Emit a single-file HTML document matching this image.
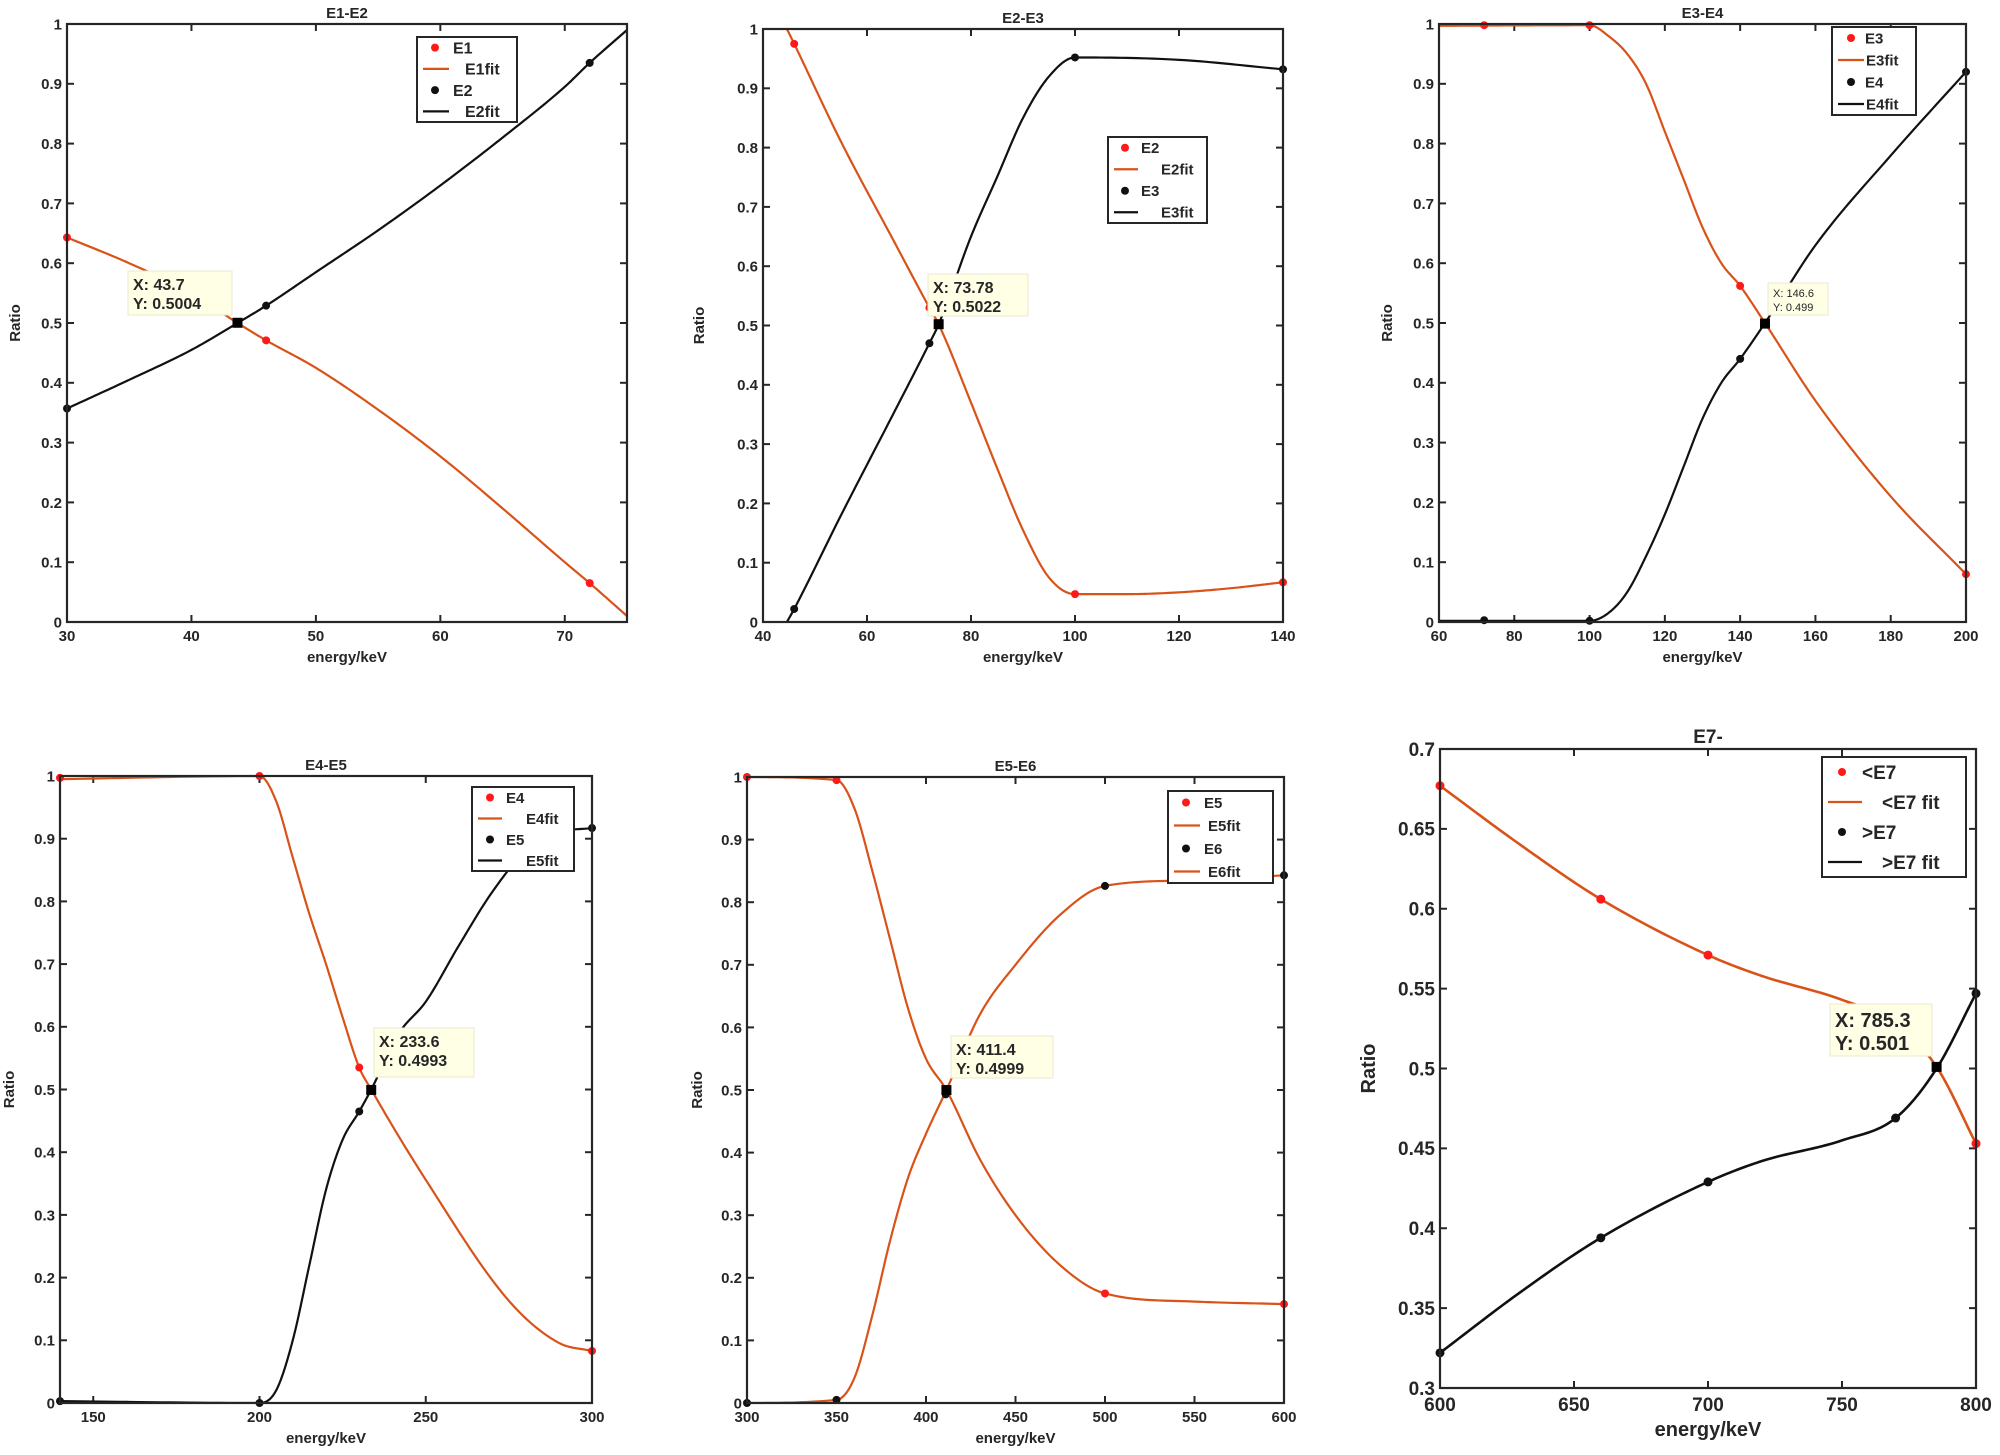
<!DOCTYPE html>
<html><head><meta charset="utf-8">
<style>
html,body{margin:0;padding:0;background:#fff;}
svg{display:block;}
text{font-family:"Liberation Sans","DejaVu Sans",sans-serif;font-weight:bold;fill:#262626;}
</style></head>
<body>
<svg id="fig" width="2000" height="1455" viewBox="0 0 2000 1455" xmlns="http://www.w3.org/2000/svg"></svg>
<script>
// ---------- data ----------
const p1Xticks=[30,40,50,60,70];
const p1E1x=[30,46,72], p1E1y=[0.643,0.471,0.065];
const p1E1fitX=[30,35,40,43.7,46,50,55,60,65,70,72,75];
const p1E1fitY=[0.643,0.6,0.55,0.5,0.471,0.425,0.355,0.277,0.19,0.1,0.065,0.01];
const p1E2x=[30,46,72], p1E2y=[0.357,0.529,0.935];
const p1E2fitX=[30,35,40,43.7,46,50,55,60,65,70,72,75];
const p1E2fitY=[0.357,0.405,0.455,0.5,0.529,0.585,0.655,0.73,0.81,0.895,0.935,0.99];

const p2Xticks=[40,60,80,100,120,140];
const p2E2x=[46,72,100,140], p2E2y=[0.975,0.53,0.047,0.067];
const p2E2fitX=[44.6,46,55,65,72,73.78,80,85,90,95,100,110,120,130,140];
const p2E2fitY=[1.0,0.975,0.81,0.645,0.53,0.502,0.37,0.26,0.155,0.075,0.047,0.047,0.05,0.057,0.067];
const p2E3x=[46,72,100,140], p2E3y=[0.022,0.47,0.952,0.932];
const p2E3fitX=[44.6,46,55,65,72,73.78,80,85,90,95,100,120,140];
const p2E3fitY=[0,0.022,0.18,0.35,0.47,0.502,0.65,0.75,0.85,0.92,0.952,0.948,0.932];

const p3Xticks=[60,80,100,120,140,160,180,200];
const p3E3x=[72,100,140,200], p3E3y=[0.998,0.998,0.562,0.08];
const p3E3fitX=[60,100,105,110,115,120,125,130,135,140,146.6,160,180,200];
const p3E3fitY=[0.997,0.998,0.98,0.95,0.9,0.82,0.74,0.66,0.6,0.562,0.5,0.37,0.21,0.08];
const p3E4x=[72,100,140,200], p3E4y=[0.003,0.002,0.44,0.92];
const p3E4fitX=[60,100,105,110,115,120,125,130,135,140,146.6,160,180,200];
const p3E4fitY=[0.002,0.002,0.015,0.05,0.11,0.18,0.26,0.34,0.4,0.44,0.5,0.63,0.78,0.92];

const p4Xticks=[150,200,250,300];
const p4E4x=[140,200,230,300], p4E4y=[0.997,1.0,0.535,0.083];
const p4E4fitX=[140,200,205,210,215,220,225,230,233.6,250,275,290,300];
const p4E4fitY=[0.995,1.0,0.96,0.87,0.78,0.7,0.615,0.535,0.5,0.356,0.163,0.096,0.083];
const p4E5x=[140,200,230,300], p4E5y=[0.003,0.0,0.465,0.917];
const p4E5fitX=[140,200,205,210,215,220,225,230,233.6,242,250,260,270,280,290,300];
const p4E5fitY=[0.003,0,0.02,0.1,0.22,0.34,0.42,0.465,0.5,0.59,0.64,0.73,0.815,0.88,0.91,0.917];

const p5Xticks=[300,350,400,450,500,550,600];
const p5E5x=[300,350,411,500,600], p5E5y=[1.0,0.995,0.5,0.175,0.158];
const p5E5fitX=[300,350,360,370,380,390,400,411.4,430,450,475,500,550,600];
const p5E5fitY=[1.0,0.995,0.95,0.85,0.74,0.63,0.55,0.5,0.39,0.3,0.22,0.175,0.162,0.158];
const p5E6x=[300,350,411,500,600], p5E6y=[0.0,0.005,0.493,0.826,0.843];
const p5E6fitX=[300,350,360,370,380,390,400,411.4,430,450,475,500,550,600];
const p5E6fitY=[0.0,0.005,0.04,0.14,0.26,0.36,0.43,0.5,0.62,0.7,0.78,0.826,0.835,0.843];

const p6Xticks=[600,650,700,750,800];
const p6Yticks=[0.3,0.35,0.4,0.45,0.5,0.55,0.6,0.65,0.7];
const p6Ax=[600,660,700,800], p6Ay=[0.677,0.606,0.571,0.453];
const p6AfitX=[600,630,660,700,720,750,770,785.3,800];
const p6AfitY=[0.677,0.64,0.606,0.571,0.558,0.543,0.528,0.501,0.453];
const p6Bx=[600,660,700,770,800], p6By=[0.322,0.394,0.429,0.469,0.547];
const p6BfitX=[600,630,660,700,720,750,770,785.3,800];
const p6BfitY=[0.322,0.36,0.394,0.429,0.442,0.455,0.469,0.5,0.547];

const unitYticks=[0,0.1,0.2,0.3,0.4,0.5,0.6,0.7,0.8,0.9,1];

// ---------- drawing ----------
const NS='http://www.w3.org/2000/svg';
const svg=document.getElementById('fig');
const ORANGE='#D95319', RED='#ff1a1a', BLACK='#111';
function mk(tag,attrs,parent){const e=document.createElementNS(NS,tag);for(const k in attrs)e.setAttribute(k,attrs[k]);(parent||svg).appendChild(e);return e;}
function fmt(v){return String(+v.toFixed(2));}
// monotone cubic (Fritsch-Carlson) sampling in data space
function monoSample(xs,ys,per){
  const n=xs.length, d=[], m=new Array(n).fill(0), out=[];
  for(let i=0;i<n-1;i++)d.push((ys[i+1]-ys[i])/(xs[i+1]-xs[i]));
  m[0]=d[0]; m[n-1]=d[n-2];
  for(let i=1;i<n-1;i++){ m[i]=(d[i-1]*d[i]<=0)?0:(d[i-1]+d[i])/2; }
  for(let i=0;i<n-1;i++){
    if(d[i]===0){m[i]=0;m[i+1]=0;continue;}
    const a=m[i]/d[i], b=m[i+1]/d[i], s=a*a+b*b;
    if(s>9){const t=3/Math.sqrt(s);m[i]=t*a*d[i];m[i+1]=t*b*d[i];}
  }
  for(let i=0;i<n-1;i++){
    const h=xs[i+1]-xs[i];
    for(let k=0;k<per;k++){
      const t=k/per,t2=t*t,t3=t2*t;
      const y=(2*t3-3*t2+1)*ys[i]+(t3-2*t2+t)*h*m[i]+(-2*t3+3*t2)*ys[i+1]+(t3-t2)*h*m[i+1];
      out.push([xs[i]+t*h,y]);
    }
  }
  out.push([xs[n-1],ys[n-1]]);
  return out;
}
function panel(cfg){
  const g=mk('g',{});
  
  
  const {L,R,T,B,x0,x1,y0,y1,fs}=cfg;
  const sx=v=>L+(v-x0)/(x1-x0)*(R-L);
  const sy=v=>B-(v-y0)/(y1-y0)*(B-T);
  const cid='clip'+cfg.name;
  const cp=mk('clipPath',{id:cid},g);mk('rect',{x:L,y:T,width:R-L,height:B-T},cp);
  cfg.xticks.forEach(v=>{
    const x=sx(v);
    mk('line',{x1:x,x2:x,y1:B,y2:B-7,stroke:'#262626','stroke-width':2},g);
    mk('line',{x1:x,x2:x,y1:T,y2:T+7,stroke:'#262626','stroke-width':2},g);
    const t=mk('text',{x:x,y:B+fs+4,'text-anchor':'middle','font-size':fs},g);t.textContent=fmt(v);
    
    
  });
  cfg.yticks.forEach(v=>{
    const y=sy(v);
    mk('line',{x1:L,x2:L+7,y1:y,y2:y,stroke:'#262626','stroke-width':2},g);
    mk('line',{x1:R,x2:R-7,y1:y,y2:y,stroke:'#262626','stroke-width':2},g);
    const t=mk('text',{x:L-5,y:y+fs*0.36,'text-anchor':'end','font-size':fs},g);t.textContent=fmt(v);
    
    
  });
  const pg=mk('g',{'clip-path':'url(#'+cid+')'},g);
  cfg.series.forEach(s=>{
    const pts=monoSample(s.fx,s.fy,20).map(p=>sx(p[0]).toFixed(2)+','+sy(p[1]).toFixed(2));
    const p=mk('polyline',{points:pts.join(' '),fill:'none',stroke:s.line,'stroke-width':cfg.lw||2.2,'stroke-linejoin':'round'},pg);
    
    
  });
  cfg.series.forEach(s=>{
    s.x.forEach((v,i)=>{
      const c=mk('circle',{cx:sx(v),cy:sy(s.y[i]),r:cfg.mr||4,fill:s.marker},g);
      
      
    });
  });
  const fr=mk('rect',{x:L,y:T,width:R-L,height:B-T,fill:'none',stroke:'#262626','stroke-width':2.2},g);
  
  
  const tt=mk('text',{x:(L+R)/2,y:T-6,'text-anchor':'middle','font-size':cfg.tfs},g);tt.textContent=cfg.title;
  
  
  const xl=mk('text',{x:(L+R)/2,y:B+fs*2+10,'text-anchor':'middle','font-size':cfg.lfs},g);xl.textContent='energy/keV';
  
  
  const yx=cfg.ylx, yy=(T+B)/2;
  const yl=mk('text',{x:yx,y:yy,'text-anchor':'middle','font-size':cfg.lfs,transform:'rotate(-90 '+yx+' '+yy+')'},g);yl.textContent='Ratio';
  
  
  const dt=cfg.tip;
  const bx=mk('rect',{x:dt.bx,y:dt.by,width:dt.bw,height:dt.bh,fill:'#ffffe6',stroke:'#e8e8d0','stroke-width':1},g);
  
  
  const l1=mk('text',{x:dt.bx+5,y:dt.by+dt.fs+3,'font-size':dt.fs,style:dt.light?'font-weight:normal':''},g);l1.textContent=dt.t1;
  
  
  const l2=mk('text',{x:dt.bx+5,y:dt.by+2*dt.fs+6,'font-size':dt.fs,style:dt.light?'font-weight:normal':''},g);l2.textContent=dt.t2;
  
  
  const sq=mk('rect',{x:sx(dt.x)-5,y:sy(dt.y)-5,width:10,height:10,fill:'#000'},g);
  
  
  const lg=cfg.leg;
  const lb=mk('rect',{x:lg.x,y:lg.y,width:lg.w,height:lg.h,fill:'#fff',stroke:'#262626','stroke-width':2},g);
  
  
  const rh=lg.h/4;
  const items=[];
  cfg.series.forEach(s=>{items.push({m:s.marker,t:s.label});items.push({l:s.line,t:s.fitLabel});});
  items.forEach((it,i)=>{
    const cy=lg.y+rh*(i+0.5);
    if(it.m){const c=mk('circle',{cx:lg.x+lg.mx,cy:cy,r:4,fill:it.m},g);
      
      }
    else{const ln=mk('line',{x1:lg.x+6,x2:lg.x+lg.lw,y1:cy,y2:cy,stroke:it.l,'stroke-width':2.2},g);
      
      }
    const t=mk('text',{x:it.m?lg.x+lg.tx1:lg.x+lg.tx2,y:cy+lg.fs*0.36,'font-size':lg.fs},g);t.textContent=it.t;
    
    
  });
}

panel({name:'panel-e1-e2',title:'E1-E2',L:67,R:627,T:24,B:622,x0:30,x1:75,y0:0,y1:1,fs:15,tfs:15,lfs:15,ylx:20,
 xticks:p1Xticks,yticks:unitYticks,
 series:[{label:'E1',fitLabel:'E1fit',x:p1E1x,y:p1E1y,fx:p1E1fitX,fy:p1E1fitY,marker:RED,line:ORANGE},
         {label:'E2',fitLabel:'E2fit',x:p1E2x,y:p1E2y,fx:p1E2fitX,fy:p1E2fitY,marker:BLACK,line:BLACK}],
 tip:{x:43.7,y:0.5004,bx:128,by:271,bw:104,bh:44,fs:16,t1:'X: 43.7',t2:'Y: 0.5004'},
 leg:{x:417,y:37,w:100,h:85,mx:18,lw:32,tx1:36,tx2:48,fs:16}});

panel({name:'panel-e2-e3',title:'E2-E3',L:763,R:1283,T:29,B:622,x0:40,x1:140,y0:0,y1:1,fs:15,tfs:15,lfs:15,ylx:704,
 xticks:p2Xticks,yticks:unitYticks,
 series:[{label:'E2',fitLabel:'E2fit',x:p2E2x,y:p2E2y,fx:p2E2fitX,fy:p2E2fitY,marker:RED,line:ORANGE},
         {label:'E3',fitLabel:'E3fit',x:p2E3x,y:p2E3y,fx:p2E3fitX,fy:p2E3fitY,marker:BLACK,line:BLACK}],
 tip:{x:73.78,y:0.5022,bx:928,by:274,bw:100,bh:42,fs:16,t1:'X: 73.78',t2:'Y: 0.5022'},
 leg:{x:1108,y:137,w:99,h:86,mx:17,lw:30,tx1:33,tx2:53,fs:15}});

panel({name:'panel-e3-e4',title:'E3-E4',L:1439,R:1966,T:24,B:622,x0:60,x1:200,y0:0,y1:1,fs:15,tfs:15,lfs:15,ylx:1392,
 xticks:p3Xticks,yticks:unitYticks,
 series:[{label:'E3',fitLabel:'E3fit',x:p3E3x,y:p3E3y,fx:p3E3fitX,fy:p3E3fitY,marker:RED,line:ORANGE},
         {label:'E4',fitLabel:'E4fit',x:p3E4x,y:p3E4y,fx:p3E4fitX,fy:p3E4fitY,marker:BLACK,line:BLACK}],
 tip:{x:146.6,y:0.499,bx:1768,by:283,bw:60,bh:32,fs:11,light:true,t1:'X: 146.6',t2:'Y: 0.499'},
 leg:{x:1832,y:27,w:84,h:88,mx:19,lw:32,tx1:33,tx2:34,fs:15}});

panel({name:'panel-e4-e5',title:'E4-E5',L:60,R:592,T:776,B:1403,x0:140,x1:300,y0:0,y1:1,fs:15,tfs:15,lfs:15,ylx:14,
 xticks:p4Xticks,yticks:unitYticks,
 series:[{label:'E4',fitLabel:'E4fit',x:p4E4x,y:p4E4y,fx:p4E4fitX,fy:p4E4fitY,marker:RED,line:ORANGE},
         {label:'E5',fitLabel:'E5fit',x:p4E5x,y:p4E5y,fx:p4E5fitX,fy:p4E5fitY,marker:BLACK,line:BLACK}],
 tip:{x:233.6,y:0.4993,bx:374,by:1028,bw:100,bh:49,fs:16,t1:'X: 233.6',t2:'Y: 0.4993'},
 leg:{x:472,y:787,w:102,h:84,mx:18,lw:30,tx1:34,tx2:54,fs:15}});

panel({name:'panel-e5-e6',title:'E5-E6',L:747,R:1284,T:777,B:1403,x0:300,x1:600,y0:0,y1:1,fs:15,tfs:15,lfs:15,ylx:702,
 xticks:p5Xticks,yticks:unitYticks,
 series:[{label:'E5',fitLabel:'E5fit',x:p5E5x,y:p5E5y,fx:p5E5fitX,fy:p5E5fitY,marker:RED,line:ORANGE},
         {label:'E6',fitLabel:'E6fit',x:p5E6x,y:p5E6y,fx:p5E6fitX,fy:p5E6fitY,marker:BLACK,line:ORANGE}],
 tip:{x:411.4,y:0.4999,bx:951,by:1036,bw:102,bh:42,fs:16,t1:'X: 411.4',t2:'Y: 0.4999'},
 leg:{x:1168,y:791,w:105,h:92,mx:18,lw:32,tx1:36,tx2:40,fs:15}});

panel({name:'panel-e7',title:'E7-',L:1440,R:1976,T:749,B:1388,x0:600,x1:800,y0:0.3,y1:0.7,fs:19,tfs:19,lfs:20,ylx:1375,lw:2.6,mr:4.5,
 xticks:p6Xticks,yticks:p6Yticks,
 series:[{label:'<E7',fitLabel:'<E7 fit',x:p6Ax,y:p6Ay,fx:p6AfitX,fy:p6AfitY,marker:RED,line:ORANGE},
         {label:'>E7',fitLabel:'>E7 fit',x:p6Bx,y:p6By,fx:p6BfitX,fy:p6BfitY,marker:BLACK,line:BLACK}],
 tip:{x:785.3,y:0.501,bx:1830,by:1004,bw:102,bh:52,fs:20,t1:'X: 785.3',t2:'Y: 0.501'},
 leg:{x:1822,y:757,w:144,h:120,mx:20,lw:40,tx1:40,tx2:60,fs:19}});
</script>
</body></html>
